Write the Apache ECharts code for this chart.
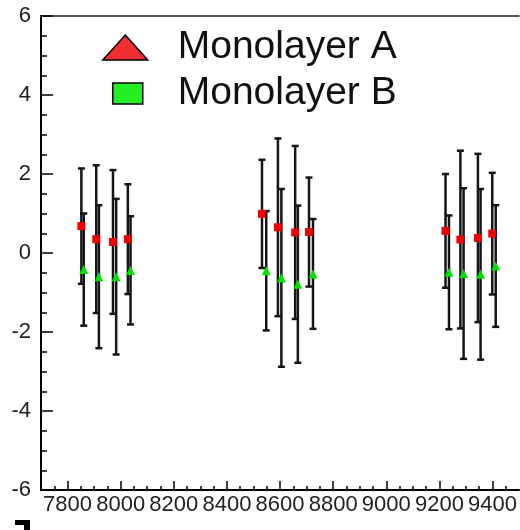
<!DOCTYPE html>
<html>
<head>
<meta charset="utf-8">
<script src="https://cdn.jsdelivr.net/npm/echarts@6/dist/echarts.min.js"></script>
<style>
  html, body { margin: 0; padding: 0; background: #fff; }
  #chart { width: 520px; height: 530px; }
</style>
</head>
<body>
<div id="chart"></div>
<script>
// monolayer A (red squares) / monolayer B (green triangles), symmetric errors
const redX = [7852, 7908, 7971, 8027, 8532, 8592, 8657, 8709, 9223, 9279, 9345, 9399]
const redY = [0.68, 0.35, 0.28, 0.35, 0.99, 0.65, 0.52, 0.53, 0.56, 0.34, 0.38, 0.49]
const redErr = [1.46, 1.87, 1.82, 1.39, 1.37, 2.25, 2.19, 1.38, 1.44, 2.25, 2.13, 1.54]
const greenX = [7861, 7918, 7983, 8037, 8548, 8605, 8667, 8724, 9236, 9291, 9355, 9412]
const greenY = [-0.42, -0.6, -0.6, -0.44, -0.45, -0.63, -0.79, -0.53, -0.49, -0.52, -0.54, -0.33]
const greenErr = [1.42, 1.81, 1.97, 1.37, 1.51, 2.25, 1.99, 1.39, 1.44, 2.16, 2.16, 1.54]
const xMajor = [7800, 8000, 8200, 8400, 8600, 8800, 9000, 9200, 9400]
const xMinor = [7750, 7850, 7900, 7950, 8050, 8100, 8150, 8250, 8300, 8350, 8450, 8500, 8550,
  8650, 8700, 8750, 8850, 8900, 8950, 9050, 9100, 9150, 9250, 9300, 9350, 9450]

let chart = echarts.init(document.getElementById('chart'))
let font = 'Liberation Sans'

let redPts = redX.map((x, i) => [x, redY[i]])
let greenPts = greenX.map((x, i) => [x, greenY[i]])
let bars = redX.map((x, i) => [x, redY[i] - redErr[i], redY[i] + redErr[i]])
  .concat(greenX.map((x, i) => [x, greenY[i] - greenErr[i], greenY[i] + greenErr[i]]))

function renderBar (params, api) {
  let top = api.coord([api.value(0), api.value(2)])
  let bot = api.coord([api.value(0), api.value(1)])
  let st = { stroke: '#151515', lineWidth: 2.5 }
  return {
    type: 'group',
    children: [
      { type: 'line', shape: { x1: top[0], y1: top[1], x2: bot[0], y2: bot[1] }, style: st },
      { type: 'line', shape: { x1: top[0] - 3.5, y1: top[1], x2: top[0] + 3.5, y2: top[1] }, style: st },
      { type: 'line', shape: { x1: bot[0] - 3.5, y1: bot[1], x2: bot[0] + 3.5, y2: bot[1] }, style: st }
    ]
  }
}

// one bottom axis per tick size, all sharing the same scale
function tickAxis (values, len) {
  return {
    type: 'value', min: 7700, max: 9500, position: 'bottom',
    splitLine: { show: false },
    axisLine: { show: false, onZero: false },
    axisTick: { show: true, inside: true, length: len, customValues: values,
      lineStyle: { color: '#000', width: 1.5 } },
    axisLabel: { show: false }
  }
}

let option = {
  backgroundColor: '#fff',
  animation: false,
  grid: { left: 41, right: 0, top: 16, bottom: 40 },
  legend: [{
    left: 97, top: 23, itemWidth: 45, itemHeight: 25,
    selectedMode: false,
    textStyle: { fontFamily: font, fontSize: 39, color: '#111', padding: [14, 0, 0, 25] },
    data: [{ name: 'Monolayer A', icon: 'triangle',
      itemStyle: { color: '#f03030', borderColor: '#000', borderWidth: 1.5 } }]
  }, {
    left: 107, top: 69, itemWidth: 30, itemHeight: 21,
    selectedMode: false,
    textStyle: { fontFamily: font, fontSize: 39, color: '#111', padding: [14, 0, 0, 30] },
    data: [{ name: 'Monolayer B', icon: 'rect',
      itemStyle: { color: '#22f022', borderColor: '#000', borderWidth: 1.5 } }]
  }],
  xAxis: [{
    type: 'value', min: 7700, max: 9500, position: 'bottom',
    splitLine: { show: false },
    axisLine: { onZero: false, lineStyle: { color: '#000', width: 2 } },
    axisTick: { show: false },
    axisLabel: {
      customValues: xMajor, margin: 4, showMinLabel: true, showMaxLabel: true,
      formatter: function (v) { return String(v) },
      fontFamily: font, fontSize: 22, color: '#222'
    }
  },
  tickAxis(xMajor, 9),
  tickAxis(xMinor, 4),
  {
    type: 'value', min: 7700, max: 9500, position: 'top',
    splitLine: { show: false },
    axisLine: { onZero: false, lineStyle: { color: '#222', width: 1.5 } },
    axisTick: { show: false },
    axisLabel: { show: false }
  }],
  yAxis: {
    type: 'value', min: -6, max: 6, interval: 2,
    splitLine: { show: false },
    axisLine: { onZero: false, lineStyle: { color: '#000', width: 2 } },
    axisTick: { inside: true, length: 12, lineStyle: { color: '#000', width: 1.5 } },
    minorTick: { show: true, splitNumber: 4, length: 6, lineStyle: { color: '#000', width: 1.5 } },
    axisLabel: { margin: 10, fontFamily: font, fontSize: 22, color: '#222' }
  },
  series: [{
    type: 'custom',
    renderItem: renderBar,
    encode: { x: 0, y: [1, 2] },
    data: bars,
    z: 1
  }, {
    name: 'Monolayer A',
    type: 'scatter',
    symbol: 'rect',
    symbolSize: 8,
    itemStyle: { color: '#f00000', opacity: 1 },
    data: redPts,
    z: 3
  }, {
    name: 'Monolayer B',
    type: 'scatter',
    symbol: 'triangle',
    symbolSize: 9,
    itemStyle: { color: '#00e000', opacity: 1 },
    data: greenPts,
    z: 3
  }],
  graphic: [{
    type: 'polygon',
    shape: { points: [[15, 520], [30, 520], [30, 530], [24, 530], [24, 525], [15, 525]] },
    style: { fill: '#000' }
  }]
}
chart.setOption(option)
window.onresize = function () {
  chart.resize()
}
</script>
</body>
</html>
